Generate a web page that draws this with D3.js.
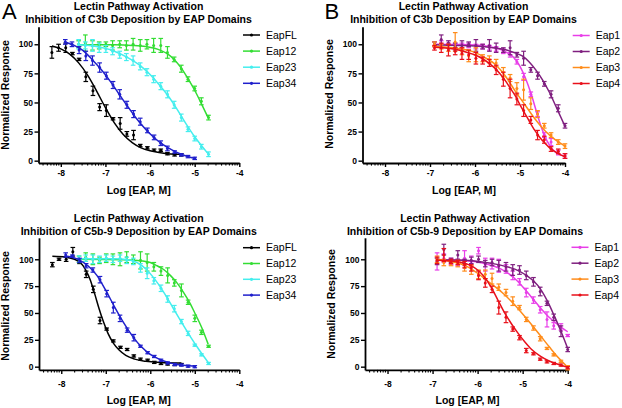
<!DOCTYPE html>
<html><head><meta charset="utf-8">
<script src="https://cdn.jsdelivr.net/npm/d3@7"></script>
<style>html,body{margin:0;padding:0;background:#fff}svg{display:block}</style>
</head><body>
<svg id="c" width="622" height="408"></svg>
<script>
// ---------- text ----------
const titleL1 = "Lectin Pathway Activation";
const titleC3 = "Inhibition of C3b Deposition by EAP Domains";
const titleC5 = "Inhibition of C5b-9 Deposition by EAP Domains";
const xLabel = "Log [EAP, M]";
const yLabel = "Normalized Response";
const xTicks = [-8, -7, -6, -5, -4];
const yTicks = [0, 25, 50, 75, 100];
const namesA = ["EapFL", "Eap12", "Eap23", "Eap34"];
const namesB = ["Eap1", "Eap2", "Eap3", "Eap4"];
const colorsA = ["#000000", "#33dd33", "#44eeee", "#1f1fcc"];
const colorsB = ["#e83ee8", "#7f1f7f", "#ff8c1a", "#e8101a"];

// ---------- x values (log M) ----------
const xFL = [-8.20,-8.05,-7.89,-7.74,-7.59,-7.44,-7.28,-7.13,-6.98,-6.83,-6.67,-6.52,-6.37,-6.22,-6.06,-5.91,-5.76,-5.61,-5.45,-5.30];
const x34 = [-7.90,-7.75,-7.59,-7.44,-7.29,-7.13,-6.98,-6.83,-6.68,-6.52,-6.37,-6.22,-6.06,-5.91,-5.76,-5.61,-5.45,-5.30,-5.15,-5.00];
const x1223 = [-7.60,-7.45,-7.29,-7.14,-6.99,-6.84,-6.68,-6.53,-6.38,-6.22,-6.07,-5.92,-5.76,-5.61,-5.46,-5.30,-5.15,-5.00,-4.85,-4.69];
const xB = [-6.90,-6.75,-6.59,-6.44,-6.29,-6.14,-5.98,-5.83,-5.68,-5.53,-5.37,-5.22,-5.07,-4.92,-4.76,-4.61,-4.46,-4.31,-4.15,-4.00];

// ---------- C3b, panel A ----------
const c3FL  = [93,97,97,92,87,72,60,46,43,36,32,23,22,13,11,9,9,6,5,5];
const c3FLe = [5,3,4,1,1,4,4,3,5,1,5,2,4,1,1,1,1,1,1,1];
const c3E12  = [100,101,99,99,100,99,100,99,100,99,100,99,99,93,87,79,70,62,51,37];
const c3E12e = [3,7,4,3,2,4,3,4,5,5,4,6,6,5,2,3,2,2,3,2];
const c3E23  = [100,99,99,97,96,94,91,89,86,81,76,70,64,57,48,37,27,19,12,5.5];
const c3E23e = [4,3,5,4,3,3,3,3,4,3,3,3,3,3,3,3,2,2,2,2];
const c3E34  = [102,100,95,90,86,80,73,65,57,48,40,33.5,26,20,15,10.5,7.5,5,3.5,2];
const c3E34e = [2,2,3,4,4,4,3,3,4,3,3,3,2,2,2,2,1,1,1,1];
const cv3FL  = [[-8.2,98.5],[-8.0,96],[-7.8,91.5],[-7.6,84],[-7.4,73.5],[-7.2,60],[-7.0,45.5],[-6.8,32.5],[-6.6,22.5],[-6.4,15.5],[-6.2,11],[-6.0,8.5],[-5.8,7],[-5.6,6],[-5.3,5.5]];
const cv3E12 = [[-7.6,99.5],[-6.8,99.5],[-6.4,99],[-6.1,98],[-5.9,96.5],[-5.75,94.5],[-5.6,91.5],[-5.45,86.5],[-5.3,79.5],[-5.15,70.5],[-5.0,60.5],[-4.85,49],[-4.7,37]];
const cv3E23 = [[-7.6,99.5],[-7.2,98],[-6.8,94],[-6.5,88.5],[-6.2,81],[-6.0,74],[-5.8,65.5],[-5.6,56],[-5.4,44.5],[-5.2,32],[-5.0,20.5],[-4.85,13],[-4.7,6]];
const cv3E34 = [[-7.9,102],[-7.7,99],[-7.5,94.5],[-7.3,87],[-7.1,78.5],[-6.9,68.5],[-6.7,57.5],[-6.5,46.5],[-6.3,36],[-6.1,27],[-5.9,19.5],[-5.7,13.5],[-5.5,9],[-5.3,5.5],[-5.1,3],[-5.0,2]];

// ---------- C3b, panel B ----------
const c3E1  = [100,100,99,99,99,99,98,98,97,96,94,91,85,72,57,40,22,16,7,4];
const c3E1e = [2,3,2,2,2,2,2,2,2,2,2,2,2,3,2,2,2,3,2,2];
const c3E2  = [100,104,101,98,99,100,99,98,99,97,95,97,91,88,78,73,66,57,45,30];
const c3E2e = [2,4,2,3,4,2,5,2,5,4,2,6,2,6,2,3,2,3,3,2];
const c3E3  = [100,98,97,102,94,90,91,88,87,84,76,71,62,61,49,40,30,22,16,12.5];
const c3E3e = [2,2,3,8,3,5,6,3,3,3,4,3,5,9,5,3,2,2,2,2];
const c3E4  = [97,97,95,94,92,91,88,86,84,78,70,62,53,43,35,22,18,10,8,4];
const c3E4e = [2,4,5,3,5,4,5,3,3,4,6,8,5,5,3,4,3,2,2,2];
const cv3E1 = [[-6.9,100],[-6.4,99.8],[-6.0,99.3],[-5.7,98],[-5.5,96.5],[-5.3,93],[-5.15,89],[-5.0,81],[-4.88,71],[-4.75,57],[-4.63,41.5],[-4.52,28],[-4.4,17],[-4.25,8.5],[-4.1,5],[-4.0,3.5]];
const cv3E2 = [[-6.9,99.5],[-6.4,99],[-6.0,98.5],[-5.6,97],[-5.3,95],[-5.1,92.5],[-4.95,90],[-4.8,85],[-4.65,78],[-4.5,69.5],[-4.35,59],[-4.2,46.5],[-4.1,38],[-4.0,29.5]];
const cv3E3 = [[-6.9,98],[-6.4,96.5],[-6.0,93],[-5.8,89],[-5.56,83],[-5.33,73],[-5.11,60],[-4.89,48],[-4.67,36],[-4.44,25.5],[-4.22,18],[-4.0,12.5]];
const cv3E4 = [[-6.9,97.4],[-6.6,96.5],[-6.3,94.5],[-6.05,91.5],[-5.85,88],[-5.7,84],[-5.56,79.5],[-5.44,74.5],[-5.33,69],[-5.22,62.5],[-5.11,56],[-5.0,48],[-4.89,40.5],[-4.78,33],[-4.67,26],[-4.55,19.5],[-4.44,14.8],[-4.33,10.5],[-4.22,7.7],[-4.1,5],[-4.0,3.4]];

// ---------- C5b-9, panel A ----------
const c5FL  = [95,100,100,107,98,86,72,43,35,24,18,16,10,7,6,4,3,2.5,2,2];
const c5FLe = [2,1,2,4,2,3,3,3,1,1,1,1,1,1,1,1,1,1,1,1];
const c5E12  = [100,102,100,99,101,100,100,102,100,99,97,93,89,85,78,71,60,45,32,19];
const c5E12e = [3,4,5,3,4,5,6,5,4,8,8,4,4,7,3,6,2,3,2,1];
const c5E23  = [100,101,100,100,101,100,101,99,98,92,87,80,73,63,54,42,31,20,11,3];
const c5E23e = [3,3,4,3,3,3,3,3,3,4,5,3,3,3,3,2,2,1,1,1];
const c5E34  = [104,103,99,94,90,81,68,55,45,34,27,19,13,9.5,6,3.5,2,1.5,0.5,0];
const c5E34e = [2,1,2,2,2,3,3,5,3,2,3,1,1,1,1,1,1,1,1,1];
const cv5FL  = [[-8.2,102.8],[-7.9,102],[-7.7,100],[-7.55,96],[-7.45,90],[-7.35,81],[-7.25,68],[-7.15,54],[-7.05,41.5],[-6.95,31],[-6.83,22],[-6.7,15.5],[-6.55,10.5],[-6.35,7],[-6.1,5],[-5.8,4],[-5.3,3.5]];
const cv5E12 = [[-7.6,100],[-6.6,99.5],[-6.2,98.5],[-6.0,97],[-5.85,94],[-5.7,90.5],[-5.55,85],[-5.4,78],[-5.25,69],[-5.1,58.5],[-5.0,50],[-4.85,37],[-4.7,21]];
const cv5E23 = [[-7.6,100.5],[-6.8,100.5],[-6.5,99.5],[-6.3,97],[-6.1,91],[-5.9,81.5],[-5.7,69.5],[-5.5,55.5],[-5.3,41.5],[-5.1,28],[-4.9,15.5],[-4.7,4]];
const cv5E34 = [[-7.9,103],[-7.6,99.5],[-7.4,94],[-7.2,85],[-7.0,71],[-6.8,55.5],[-6.6,41],[-6.4,28.5],[-6.2,18.5],[-6.0,11.5],[-5.8,7],[-5.6,4],[-5.4,2],[-5.2,1],[-5.0,0.5]];

// ---------- C5b-9, panel B ----------
const c5E1  = [98,101,98,97,101,98,108,95,96,94,91,85,79,69,62,53,44,38,37,29];
const c5E1e = [8,4,3,3,7,5,3,6,5,6,4,4,3,4,3,3,7,3,3,1];
const c5E2  = [98,109,99,104,98,99,100,96,97,94,93,90,90,85,79,70,59,46,33,16];
const c5E2e = [3,5,2,4,2,3,3,3,3,5,4,5,4,4,4,4,2,3,5,2];
const c5E3  = [100,97,96,96,92,90,86,86,82,74,69,61,55,44,36,26,17,11,5,-1];
const c5E3e = [3,3,2,3,3,4,4,4,5,3,3,4,2,2,2,2,1,1,1,2];
const c5E4  = [99,104,98,97,95,92,85,78,72,55,46,35,27,15,12,7,4.5,3,1.5,-1];
const c5E4e = [3,6,2,2,3,3,4,4,3,6,5,2,2,2,1,1,1,1,1,1];
const cv5E1 = [[-6.9,99.5],[-6.5,99.3],[-6.2,98.5],[-6.0,97.5],[-5.8,95.5],[-5.6,93],[-5.4,89],[-5.2,83],[-5.0,74.5],[-4.8,64.5],[-4.6,54.5],[-4.4,45.5],[-4.2,38.5],[-4.0,32.5]];
const cv5E2 = [[-6.9,99.5],[-6.3,99],[-5.9,97.5],[-5.6,95.5],[-5.3,92.5],[-5.1,89.5],[-4.9,84.5],[-4.75,79.5],[-4.6,72],[-4.45,61],[-4.3,47.5],[-4.15,33],[-4.0,17]];
const cv5E3 = [[-6.9,100],[-6.6,98],[-6.4,96],[-6.2,92.5],[-6.0,87],[-5.8,80.5],[-5.6,74],[-5.4,67],[-5.2,58.5],[-5.0,49],[-4.8,39],[-4.6,28.5],[-4.4,18],[-4.2,8],[-4.0,-0.5]];
const cv5E4 = [[-6.9,99],[-6.6,98.5],[-6.4,97.5],[-6.2,95],[-6.0,90],[-5.85,83.5],[-5.7,74],[-5.55,62],[-5.4,50],[-5.25,40],[-5.1,31],[-4.95,23],[-4.8,16],[-4.6,9.5],[-4.4,5],[-4.2,2],[-4.0,-0.5]];

// ---------- build ----------
function mk(names, colors, xs, ys, es, cvs) {
  return names.map((n, i) => ({name: n, color: colors[i], x: xs[i], y: ys[i], e: es[i], c: cvs[i]}));
}
const FONT = "'Liberation Sans', Arial, Helvetica, sans-serif";
const panels = [
  {letter: "A", title2: titleC3, xr: [38.5, 239.3], yd: [-2, 115], yr: [163, 26.8],
   t1: 10, t2: 23, tx: 138.5, xlx: 138.7, xly: 194, tly: 176.3, ylx: 9, yly: 95,
   legX: 243, legY: 35, legDy: 16.1,
   series: mk(namesA, colorsA, [xFL, x1223, x1223, x34], [c3FL, c3E12, c3E23, c3E34], [c3FLe, c3E12e, c3E23e, c3E34e], [cv3FL, cv3E12, cv3E23, cv3E34])},
  {letter: "B", title2: titleC3, xr: [362.5, 565], yd: [-2, 115], yr: [163, 26.8],
   t1: 10, t2: 23, tx: 463.5, xlx: 464, xly: 194, tly: 176.3, ylx: 333, yly: 94,
   legX: 572.7, legY: 35.5, legDy: 16,
   series: mk(namesB, colorsB, [xB, xB, xB, xB], [c3E1, c3E2, c3E3, c3E4], [c3E1e, c3E2e, c3E3e, c3E4e], [cv3E1, cv3E2, cv3E3, cv3E4])},
  {letter: null, title2: titleC5, xr: [39, 239.3], yd: [-3, 120], yr: [369.9, 237.8],
   t1: 222, t2: 234.5, tx: 138.7, xlx: 138.7, xly: 404, tly: 387, ylx: 9, yly: 306,
   legX: 243, legY: 247.7, legDy: 15.8,
   series: mk(namesA, colorsA, [xFL, x1223, x1223, x34], [c5FL, c5E12, c5E23, c5E34], [c5FLe, c5E12e, c5E23e, c5E34e], [cv5FL, cv5E12, cv5E23, cv5E34])},
  {letter: null, title2: titleC5, xr: [365, 567.7], yd: [-3, 120], yr: [369.9, 237.8],
   t1: 222, t2: 234.5, tx: 465, xlx: 467.5, xly: 404, tly: 387, ylx: 334.5, yly: 304,
   legX: 571.5, legY: 247.3, legDy: 15.9,
   series: mk(namesB, colorsB, [xB, xB, xB, xB], [c5E1, c5E2, c5E3, c5E4], [c5E1e, c5E2e, c5E3e, c5E4e], [cv5E1, cv5E2, cv5E3, cv5E4])}
];

const svg = d3.select("#c");
svg.append("rect").attr("width", 622).attr("height", 408).attr("fill", "#fff");

panels.forEach(p => {
  const g = svg.append("g");
  const x = d3.scaleLinear().domain([-8.5, -4]).range(p.xr);
  const y = d3.scaleLinear().domain(p.yd).range(p.yr);

  // titles
  g.append("text").attr("x", p.tx).attr("y", p.t1).attr("text-anchor", "middle")
    .attr("font-family", FONT).attr("font-weight", "bold").attr("font-size", 10.5).text(titleL1);
  g.append("text").attr("x", p.tx).attr("y", p.t2).attr("text-anchor", "middle")
    .attr("font-family", FONT).attr("font-weight", "bold").attr("font-size", 10.5).text(p.title2);
  if (p.letter) {
    g.append("text").attr("x", p.xr[0] < 100 ? 2 : 324.5).attr("y", 18.5)
      .attr("font-family", FONT).attr("font-size", 22).text(p.letter);
  }

  // axes
  const xa = d3.axisBottom(x).tickValues(xTicks).tickSize(4).tickSizeOuter(0).tickPadding(2).tickFormat(d => String(d));
  const ya = d3.axisLeft(y).tickValues(yTicks).tickSize(4).tickSizeOuter(0).tickPadding(1.5).tickFormat(d => String(d));
  const gx = g.append("g").attr("transform", `translate(0,${p.yr[0]})`).call(xa);
  const gy = g.append("g").attr("transform", `translate(${p.xr[0]},0)`).call(ya);
  [gx, gy].forEach(a => {
    a.attr("font-family", FONT).attr("font-size", 8.5).attr("font-weight", "bold");
    a.select(".domain").attr("stroke", "#000").attr("stroke-width", 1.8);
    a.selectAll(".tick line").attr("stroke", "#000").attr("stroke-width", 1.4);
    a.selectAll(".tick text").attr("fill", "#000");
  });
  gx.selectAll(".tick text").attr("y", null).attr("dy", null).attr("transform", `translate(0,${p.tly - p.yr[0]})`);
  // log-style minor ticks
  const minor = [];
  for (let d = -9; d <= -5; d++) for (let k = 2; k <= 9; k++) {
    const v = d + Math.log10(k);
    if (v > -8.5 && v < -4) minor.push(v);
  }
  g.append("g").selectAll("line").data(minor).join("line")
    .attr("x1", d => x(d)).attr("x2", d => x(d))
    .attr("y1", p.yr[0]).attr("y2", p.yr[0] + 2.6)
    .attr("stroke", "#000").attr("stroke-width", 1.1);

  // axis labels
  g.append("text").attr("x", p.xlx).attr("y", p.xly).attr("text-anchor", "middle")
    .attr("font-family", FONT).attr("font-weight", "bold").attr("font-size", 10.5).text(xLabel);
  g.append("text").attr("transform", `translate(${p.ylx},${p.yly}) rotate(-90)`).attr("text-anchor", "middle")
    .attr("font-family", FONT).attr("font-weight", "bold").attr("font-size", 10.5).text(yLabel);

  // series
  const line = d3.line().x(d => x(d[0])).y(d => y(d[1])).curve(d3.curveMonotoneX);
  p.series.forEach(s => {
    const sg = g.append("g");
    sg.append("path").attr("d", line(s.c)).attr("fill", "none").attr("stroke", s.color).attr("stroke-width", 1.5);
    const pts = s.x.map((xv, i) => ({x: xv, y: s.y[i], e: s.e[i]}));
    const eb = sg.append("g").attr("stroke", s.color).attr("stroke-width", 1.2);
    eb.selectAll("line.v").data(pts).join("line").attr("class", "v")
      .attr("x1", d => x(d.x)).attr("x2", d => x(d.x))
      .attr("y1", d => y(d.y - d.e)).attr("y2", d => y(d.y + d.e));
    eb.selectAll("line.t").data(pts).join("line").attr("class", "t")
      .attr("x1", d => x(d.x) - 2.3).attr("x2", d => x(d.x) + 2.3)
      .attr("y1", d => y(d.y + d.e)).attr("y2", d => y(d.y + d.e));
    eb.selectAll("line.b").data(pts).join("line").attr("class", "b")
      .attr("x1", d => x(d.x) - 2.3).attr("x2", d => x(d.x) + 2.3)
      .attr("y1", d => y(d.y - d.e)).attr("y2", d => y(d.y - d.e));
    sg.selectAll("circle").data(pts).join("circle")
      .attr("cx", d => x(d.x)).attr("cy", d => y(d.y)).attr("r", 1.5).attr("fill", s.color);
  });

  // legend
  p.series.forEach((s, i) => {
    const ly = p.legY + i * p.legDy;
    g.append("line").attr("x1", p.legX).attr("x2", p.legX + 17).attr("y1", ly).attr("y2", ly)
      .attr("stroke", s.color).attr("stroke-width", 1.5);
    g.append("circle").attr("cx", p.legX + 8.5).attr("cy", ly).attr("r", 1.6).attr("fill", s.color);
    g.append("text").attr("x", p.legX + 23).attr("y", ly).attr("dy", "0.36em")
      .attr("font-family", FONT).attr("font-size", 10.5).attr("fill", "#000").text(s.name);
  });
});
</script>
</body></html>
